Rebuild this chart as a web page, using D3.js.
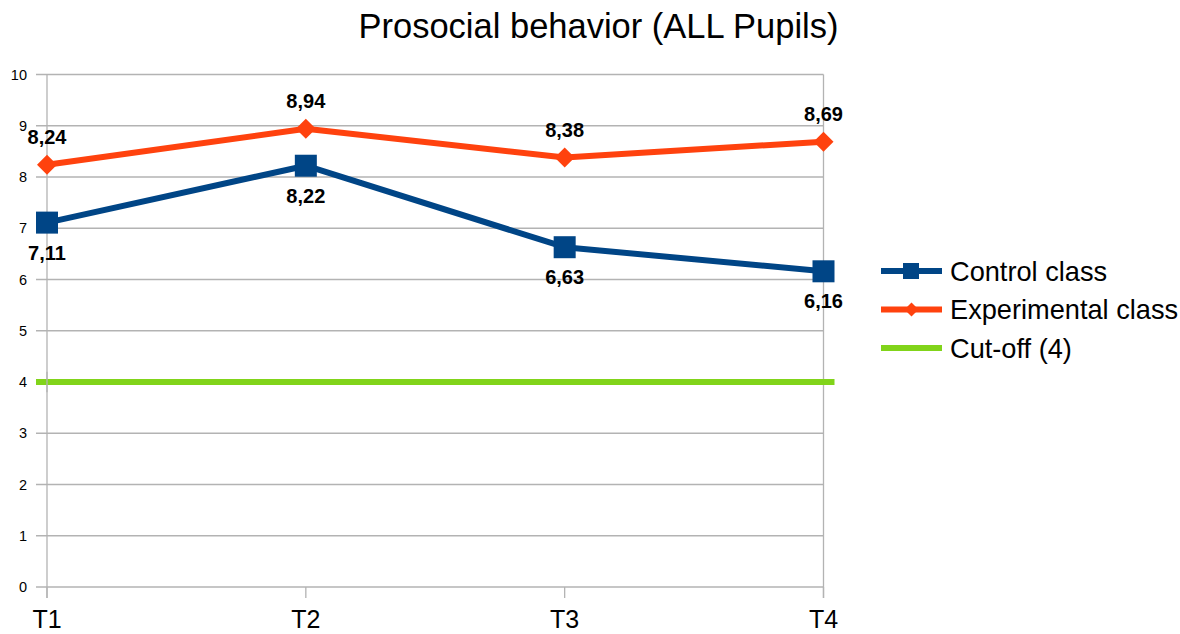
<!DOCTYPE html>
<html><head><meta charset="utf-8">
<script src="https://cdn.jsdelivr.net/npm/d3@7"></script>
<style>body{margin:0;background:#fff}svg{display:block;font-family:"Liberation Sans",Arial,sans-serif}</style>
</head><body>
<script>
const categories = ["T1","T2","T3","T4"];
const controlValues = [7.11, 8.22, 6.63, 6.16];
const experimentalValues = [8.24, 8.94, 8.38, 8.69];
const cutoffValues = [4, 4, 4, 4];
const yTicks = [0,1,2,3,4,5,6,7,8,9,10];
const labelText = v => v.toFixed(2).replace(".", ",");

const W = 1180, H = 634;
const svg = d3.select("body").append("svg").attr("width", W).attr("height", H);

const x = d3.scalePoint().domain(categories).range([47, 823.5]);
const y = d3.scaleLinear().domain([0, 10]).range([587, 74.5]);

// title
svg.append("text").attr("x", 598.5).attr("y", 38).attr("text-anchor", "middle")
  .attr("font-size", 34.5).attr("fill", "#000").text("Prosocial behavior (ALL Pupils)");

// horizontal gridlines
svg.append("g").selectAll("line").data(yTicks).join("line")
  .attr("x1", 36).attr("x2", x("T4"))
  .attr("y1", d => y(d)).attr("y2", d => y(d))
  .attr("stroke", "#b3b3b3").attr("stroke-width", 1.3);

// y labels
svg.append("g").selectAll("text").data(yTicks).join("text")
  .attr("x", 27).attr("y", d => y(d) + 5).attr("text-anchor", "end")
  .attr("font-size", 14.5).attr("fill", "#000").text(d => d);

// left axis & right border
svg.append("line").attr("x1", x("T1")).attr("x2", x("T1")).attr("y1", y(10)).attr("y2", y(0) + 11)
  .attr("stroke", "#b3b3b3").attr("stroke-width", 1.3);
svg.append("line").attr("x1", x("T4")).attr("x2", x("T4")).attr("y1", y(10)).attr("y2", y(0) + 11)
  .attr("stroke", "#b3b3b3").attr("stroke-width", 1.3);

// x ticks
svg.append("g").selectAll("line").data(categories).join("line")
  .attr("x1", d => x(d)).attr("x2", d => x(d)).attr("y1", y(0)).attr("y2", y(0) + 11)
  .attr("stroke", "#b3b3b3").attr("stroke-width", 1.3);
svg.append("g").selectAll("text").data(categories).join("text")
  .attr("x", d => x(d)).attr("y", 628).attr("text-anchor", "middle")
  .attr("font-size", 25).attr("fill", "#000").text(d => d);

// cut-off line
svg.append("line").attr("x1", x("T1") - 11).attr("x2", x("T4") + 11)
  .attr("y1", y(cutoffValues[0])).attr("y2", y(cutoffValues[3]))
  .attr("stroke", "#81d41a").attr("stroke-width", 6);
svg.append("line").attr("x1", x("T1")).attr("x2", x("T1")).attr("y1", y(4.2)).attr("y2", y(3.8))
  .attr("stroke", "#b3b3b3").attr("stroke-width", 1.3);

const line = d3.line().x((d, i) => x(categories[i])).y(d => y(d));

// experimental
svg.append("path").datum(experimentalValues).attr("d", line)
  .attr("fill", "none").attr("stroke", "#ff420e").attr("stroke-width", 6).attr("stroke-linejoin", "round");
svg.append("g").selectAll("path").data(experimentalValues).join("path")
  .attr("transform", (d, i) => `translate(${x(categories[i])},${y(d)})`)
  .attr("d", "M0,-10L10,0L0,10L-10,0Z").attr("fill", "#ff420e");

// control
svg.append("path").datum(controlValues).attr("d", line)
  .attr("fill", "none").attr("stroke", "#004586").attr("stroke-width", 6).attr("stroke-linejoin", "round");
svg.append("g").selectAll("rect").data(controlValues).join("rect")
  .attr("x", (d, i) => x(categories[i]) - 11).attr("y", d => y(d) - 11)
  .attr("width", 22).attr("height", 22).attr("fill", "#004586");

// data labels
svg.append("g").selectAll("text").data(experimentalValues).join("text")
  .attr("x", (d, i) => x(categories[i])).attr("y", d => y(d) - 21)
  .attr("text-anchor", "middle").attr("font-size", 20).attr("font-weight", "bold").attr("fill", "#000")
  .text(labelText);
svg.append("g").selectAll("text").data(controlValues).join("text")
  .attr("x", (d, i) => x(categories[i])).attr("y", d => y(d) + 37)
  .attr("text-anchor", "middle").attr("font-size", 20).attr("font-weight", "bold").attr("fill", "#000")
  .text(labelText);

// legend
const legend = [
  {name: "Control class", color: "#004586", marker: "square"},
  {name: "Experimental class", color: "#ff420e", marker: "diamond"},
  {name: "Cut-off (4)", color: "#81d41a", marker: null}
];
const lg = svg.append("g").selectAll("g").data(legend).join("g")
  .attr("transform", (d, i) => `translate(881,${271 + i * 38.5})`);
lg.append("line").attr("x1", 0).attr("x2", 61).attr("stroke", d => d.color).attr("stroke-width", 6);
lg.filter(d => d.marker === "square").append("rect")
  .attr("x", 22).attr("y", -8).attr("width", 16).attr("height", 16).attr("fill", d => d.color);
lg.filter(d => d.marker === "diamond").append("path")
  .attr("d", "M30.5,-7L37.5,0L30.5,7L23.5,0Z").attr("fill", d => d.color);
lg.append("text").attr("x", 69).attr("y", 9.5).attr("font-size", 27.2).attr("fill", "#000").text(d => d.name);
</script>
</body></html>
